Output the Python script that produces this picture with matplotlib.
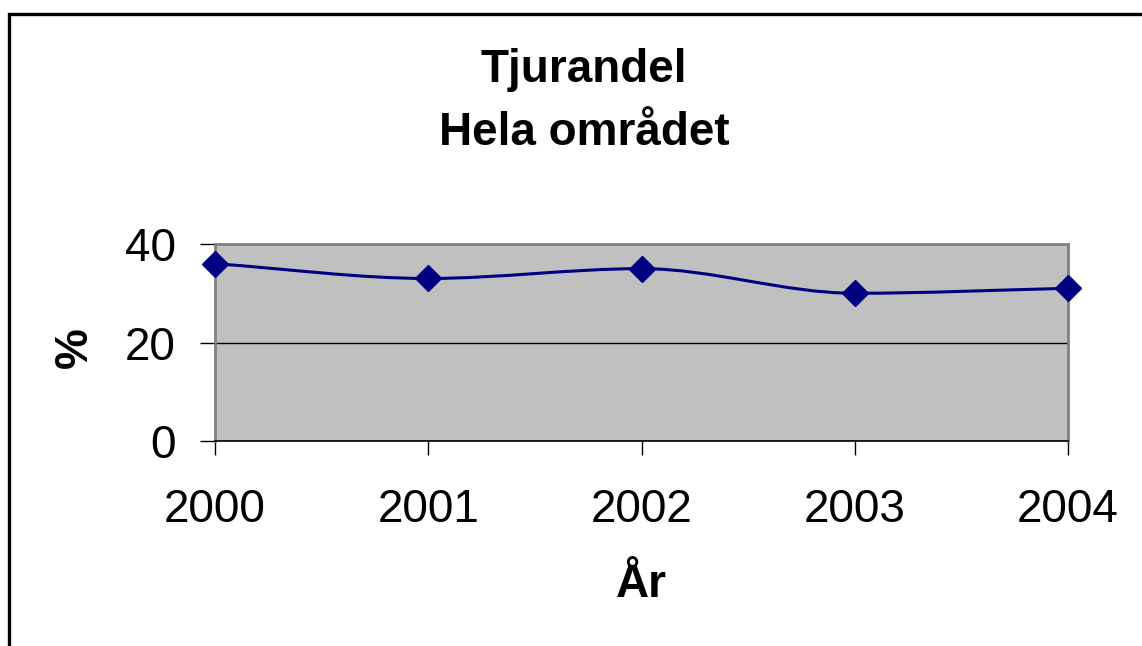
import numpy as np
import matplotlib
matplotlib.use('Agg')
import matplotlib.pyplot as plt
from matplotlib.path import Path
from matplotlib.patches import PathPatch, Rectangle

plt.rcParams['font.family'] = ['Liberation Sans', 'DejaVu Sans']

years = [2000, 2001, 2002, 2003, 2004]
share = [36, 33, 35, 30, 31]
yticks = [0, 20, 40]
title_lines = ['Tjurandel', 'Hela området']
xlabel = 'År'
ylabel = '%'

W, H = 1142, 646
fig = plt.figure(figsize=(W / 100, H / 100), dpi=100)
ax = fig.add_axes([215 / W, 1 - 441 / H, (1068 - 215) / W, (441 - 244) / H])

ax.set_facecolor('#C0C0C0')
ax.set_xlim(years[0], years[-1])
ax.set_ylim(0, 40)
ax.set_yticks(yticks)
ax.set_xticks(years)
ax.set_xticklabels([str(y) for y in years])
ax.yaxis.grid(True, color='black', linewidth=1)
ax.set_axisbelow(True)

for side in ['top', 'right', 'left']:
    ax.spines[side].set_color('#808080')
    ax.spines[side].set_linewidth(2)
ax.spines['bottom'].set_color('black')
ax.spines['bottom'].set_linewidth(1.2)

ax.tick_params(axis='y', direction='out', length=11, width=1, color='black',
               labelsize=33, pad=17)
ax.tick_params(axis='x', direction='out', length=10, width=1, color='black',
               labelsize=33, pad=24)

# smoothed line (Excel-like): cubic Hermite with flat tangents at extrema
x = np.array(years, dtype=float)
y = np.array(share, dtype=float)
sec = np.diff(y) / np.diff(x)
m = np.zeros_like(y)
m[0] = sec[0]
m[-1] = sec[-1]
for i in range(1, len(y) - 1):
    if sec[i - 1] * sec[i] > 0:
        m[i] = (sec[i - 1] + sec[i]) / 2
verts = [(x[0], y[0])]
codes = [Path.MOVETO]
for i in range(len(x) - 1):
    dx = x[i + 1] - x[i]
    verts += [(x[i] + dx / 3, y[i] + m[i] * dx / 3),
              (x[i + 1] - dx / 3, y[i + 1] - m[i + 1] * dx / 3),
              (x[i + 1], y[i + 1])]
    codes += [Path.CURVE4] * 3
ax.add_patch(PathPatch(Path(verts, codes), fill=False, edgecolor='#000080',
                       linewidth=2.2, zorder=3))
ax.plot(years, share, linestyle='none', marker='D', markersize=13,
        color='#000080', clip_on=False, zorder=4)

fig.text(584 / W, 1 - 82 / H, title_lines[0], ha='center', va='baseline',
         fontsize=33, fontweight='bold')
fig.text(584 / W, 1 - 145 / H, title_lines[1], ha='center', va='baseline',
         fontsize=33, fontweight='bold')
fig.text(641 / W, 1 - 597 / H, xlabel, ha='center', va='baseline',
         fontsize=33, fontweight='bold')
fig.text(75 / W, 1 - 348 / H, ylabel, ha='center', va='center', rotation=90,
         fontsize=33, fontweight='bold')

fig.patches.append(Rectangle((8.5 / W, -0.1), 1.2, 1.1 - 13.5 / H,
                             transform=fig.transFigure, fill=False,
                             edgecolor='black', linewidth=2.4))

fig.savefig('out.png', dpi=100)
